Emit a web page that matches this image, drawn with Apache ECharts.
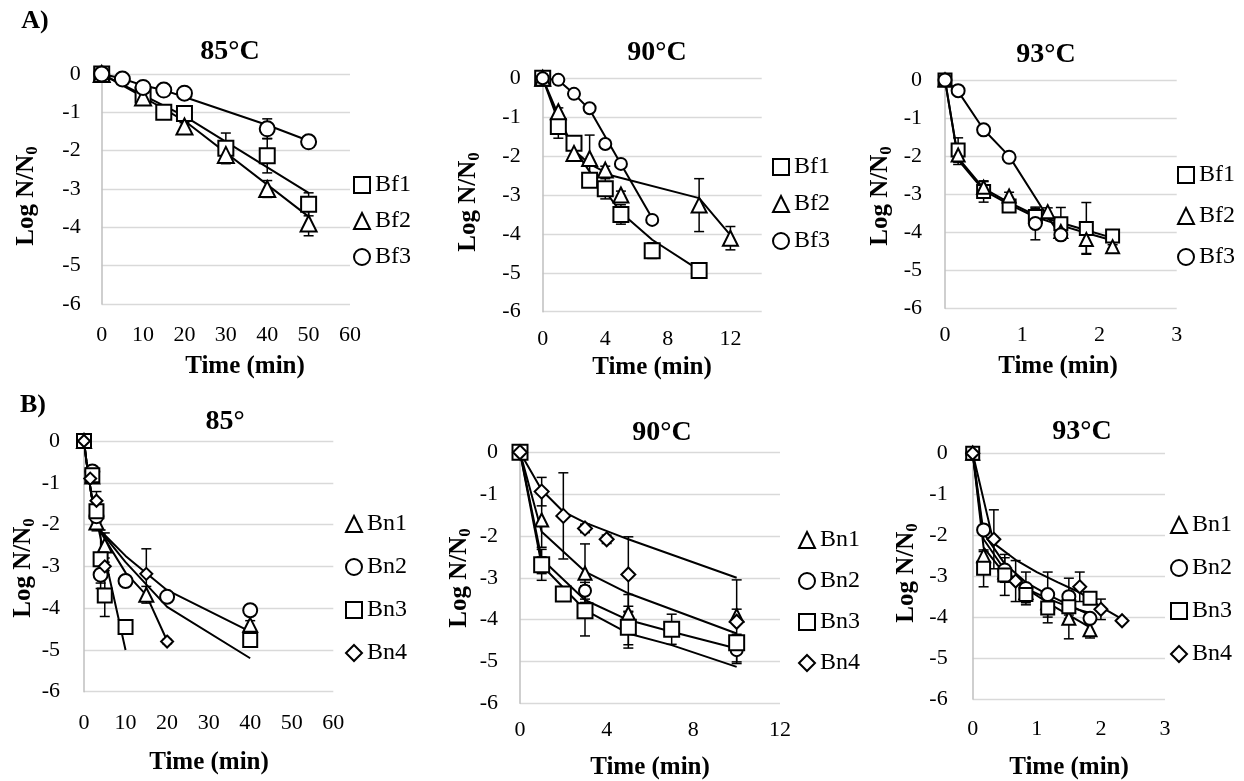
<!DOCTYPE html>
<html><head><meta charset="utf-8">
<script src="https://cdn.jsdelivr.net/npm/echarts@6/dist/echarts.min.js"></script>
<style>html,body{margin:0;padding:0;background:#fff}#c{width:1244px;height:781px}</style>
</head><body><div id="c"></div>
<script>
// ===== DATA: each point is [time (min), log N/N0, error] ; fits are [time, log N/N0] =====
// A) 85°C
const A85_Bf1 = [[0,0,0],[10,-0.55,0.1],[15,-1.0,0.05],[20,-1.03,0.15],[30,-1.94,0.4],[40,-2.13,0.45],[50,-3.4,0.3]];
const A85_Bf2 = [[0,0,0],[10,-0.61,0.1],[20,-1.37,0.1],[30,-2.11,0.1],[40,-3.0,0.22],[50,-3.9,0.32]];
const A85_Bf3 = [[0,0,0],[5,-0.13,0.05],[10,-0.35,0.15],[15,-0.42,0.05],[20,-0.5,0.1],[40,-1.43,0.26],[50,-1.77,0.05]];
const A85_Bf1_fit = [[0,0],[10,-0.55],[20,-1.1],[50,-3.1]];
const A85_Bf2_fit = [[0,0],[10,-0.6],[20,-1.22],[50,-3.72]];
const A85_Bf3_fit = [[0,0],[5,-0.12],[10,-0.3],[15,-0.42],[20,-0.6],[40,-1.33],[50,-1.74]];
// A) 90°C
const A90_Bf1 = [[0,0,0],[1,-1.24,0.3],[2,-1.67,0.15],[3,-2.62,0.15],[4,-2.84,0.26],[5,-3.5,0.25],[7,-4.43,0.2],[10,-4.94,0.05]];
const A90_Bf2 = [[0,0,0],[1,-0.86,0.1],[2,-1.93,0.1],[3,-2.06,0.6],[4,-2.36,0.1],[5,-3.0,0.1],[10,-3.26,0.68],[12,-4.11,0.3]];
const A90_Bf3 = [[0,0,0],[1,-0.04,0],[2,-0.4,0],[3,-0.77,0],[4,-1.69,0],[5,-2.2,0],[7,-3.64,0]];
const A90_Bf1_fit = [[0,0],[1,-1.1],[2,-1.8],[3,-2.4],[4,-2.9],[5,-3.45],[7,-4.15],[10,-4.93]];
const A90_Bf2_fit = [[0,0],[1,-0.95],[2,-1.85],[3,-2.2],[4.4,-2.5],[10,-3.08],[12,-4.03]];
const A90_Bf3_fit = [[0,0],[1,-0.05],[2,-0.4],[3,-0.8],[5,-2.2],[7,-3.6]];
// A) 93°C
const A93_Bf1 = [[0,0,0],[0.17,-1.84,0.32],[0.5,-2.93,0.28],[0.83,-3.31,0.1],[1.17,-3.59,0.22],[1.5,-3.78,0.43],[1.83,-3.9,0.68],[2.17,-4.1,0.1]];
const A93_Bf2 = [[0,0,0],[0.17,-1.97,0.25],[0.5,-2.82,0.15],[0.83,-3.05,0.1],[1.33,-3.46,0.1],[1.5,-3.98,0.1],[1.83,-4.19,0.37],[2.17,-4.38,0.05]];
const A93_Bf3 = [[0,0,0],[0.17,-0.28,0],[0.5,-1.31,0],[0.83,-2.03,0],[1.17,-3.77,0.43],[1.5,-4.07,0.1]];
const A93_Bf1_fit = [[0,0],[0.17,-2.05],[0.5,-2.85],[0.83,-3.22],[1.17,-3.55],[1.5,-3.75],[1.83,-3.95],[2.17,-4.15]];
const A93_Bf2_fit = [[0,0],[0.17,-2.1],[0.5,-2.9],[0.83,-3.27],[1.17,-3.6],[1.5,-3.82],[1.83,-4.02],[2.17,-4.22]];
const A93_Bf3_fit = [[0,0],[0.17,-0.3],[0.5,-1.3],[0.83,-2.0],[1.33,-3.6],[1.5,-4.1]];
// B) 85°
const B85_Bn1 = [[0,0,0],[2,-0.85,0.1],[3,-1.95,0.2],[5,-2.5,0.3],[15,-3.68,0.2],[40,-4.4,0.1]];
const B85_Bn2 = [[0,0,0],[2,-0.73,0.1],[3,-1.8,0.15],[4,-3.2,0.2],[10,-3.35,0.1],[20,-3.73,0.1],[40,-4.05,0.1]];
const B85_Bn3 = [[0,0,0],[2,-0.82,0.1],[3,-1.68,0.25],[4,-2.83,0.7],[5,-3.7,0.5],[10,-4.45,0.1],[40,-4.76,0.1]];
const B85_Bn4 = [[0,0,0],[1.5,-0.9,0.1],[3,-1.43,0.22],[5,-3.0,0.1],[15,-3.18,0.6],[20,-4.8,0.05]];
const B85_Bn1_fit = [[0,0],[0.6,-0.5],[1.8,-1.3],[3.5,-2.1],[10,-2.9],[20,-3.97],[40,-5.2]];
const B85_Bn2_fit = [[0,0],[0.6,-0.5],[1.8,-1.3],[3.5,-2.1],[10,-2.75],[20,-3.57],[40,-4.56]];
const B85_Bn3_fit = [[0,0],[0.6,-0.5],[1.8,-1.3],[3.5,-2.1],[10,-5.0]];
const B85_Bn4_fit = [[0,0],[0.6,-0.5],[1.8,-1.3],[3.5,-2.1],[10,-3.15],[15,-3.69],[20,-4.78]];
// B) 90°C
const B90_Bn1 = [[0,0,0],[1,-1.62,0.65],[3,-2.89,0.7],[5,-3.85,0.45],[10,-3.9,0.15]];
const B90_Bn2 = [[0,0,0],[1,-2.7,0.2],[3,-3.31,0.2],[5,-4.2,0.4],[10,-4.73,0.28]];
const B90_Bn3 = [[0,0,0],[1,-2.69,0.37],[2,-3.39,0.1],[3,-3.79,0.6],[5,-4.18,0.5],[7,-4.23,0.36],[10,-4.55,0.2]];
const B90_Bn4 = [[0,0,0],[1,-0.94,0.34],[2,-1.52,1.03],[3,-1.82,0.1],[4,-2.08,0.1],[5,-2.92,0.9],[10,-4.05,1.0]];
const B90_Bn1_fit = [[0,0],[1,-1.9],[3,-2.85],[5,-3.37],[10,-4.33]];
const B90_Bn2_fit = [[0,0],[1,-2.55],[3,-3.53],[5,-4.01],[7,-4.29],[10,-4.69]];
const B90_Bn3_fit = [[0,0],[1,-2.7],[3,-3.77],[5,-4.33],[7,-4.61],[10,-5.13]];
const B90_Bn4_fit = [[0,0],[1,-0.9],[2,-1.42],[3,-1.68],[5,-2.08],[10,-3.0]];
// B) 93°C
const B93_Bn1 = [[0,0,0],[0.17,-2.5,0.1],[0.5,-2.9,0.1],[0.83,-3.4,0.1],[1.17,-3.65,0.1],[1.5,-4.03,0.5],[1.83,-4.31,0.2]];
const B93_Bn2 = [[0,0,0],[0.17,-1.87,0.1],[0.5,-2.85,0.3],[0.83,-3.3,0.4],[1.17,-3.45,0.55],[1.5,-3.5,0.45],[1.83,-4.03,0.1]];
const B93_Bn3 = [[0,0,0],[0.17,-2.81,0.45],[0.5,-2.97,0.5],[0.83,-3.45,0.2],[1.17,-3.78,0.36],[1.5,-3.75,0.3],[1.83,-3.54,0.1]];
const B93_Bn4 = [[0,0,0],[0.33,-2.1,0.72],[0.67,-3.12,0.5],[1.67,-3.26,0.36],[2.0,-3.81,0.25],[2.33,-4.09,0.05]];
const B93_Bn1_fit = [[0,0],[0.17,-2.1],[0.5,-2.85],[0.83,-3.3],[1.17,-3.65],[1.5,-3.95],[1.83,-4.25]];
const B93_Bn2_fit = [[0,0],[0.17,-1.95],[0.5,-2.7],[0.83,-3.15],[1.17,-3.45],[1.5,-3.7],[1.83,-3.95]];
const B93_Bn3_fit = [[0,0],[0.17,-2.3],[0.5,-2.95],[0.83,-3.3],[1.17,-3.55],[1.5,-3.75],[1.83,-3.9]];
const B93_Bn4_fit = [[0,0],[0.33,-2.2],[0.67,-2.6],[1.0,-2.9],[1.33,-3.15],[1.67,-3.4],[2.0,-3.75],[2.33,-4.05]];

const yTicks = {min: -6, max: 0, interval: 1};
const panelTitles = ['85°C', '90°C', '93°C', '85°', '90°C', '93°C'];
const xAxisTitle = 'Time (min)';
const yAxisTitle = 'Log N/N{sub|0}';
const groupLabels = ['A)', 'B)'];

// ===== LAYOUT / STYLE =====
const FONT = '"Liberation Serif", "Times New Roman", serif';
const panels = [
  {grid:{left:101.7, top:74, width:248.3, height:230}, xMax:60, xInt:10, xm:20, ym:21,
   title:[230,52], xName:[245,367], yName:[27,196], legend:{left:353, top:173, gap:12},
   series:[['Bf1',A85_Bf1,A85_Bf1_fit,'rect',15],['Bf2',A85_Bf2,A85_Bf2_fit,'triangle',16],['Bf3',A85_Bf3,A85_Bf3_fit,'circle',15]]},
  {grid:{left:542.7, top:78.3, width:219, height:233.4}, xMax:14, xInt:4, xm:17, ym:22,
   title:[657,53], xName:[652,368], yName:[469,202], legend:{left:772, top:155, gap:13},
   series:[['Bf1',A90_Bf1,A90_Bf1_fit,'rect',15],['Bf2',A90_Bf2,A90_Bf2_fit,'triangle',15],['Bf3',A90_Bf3,A90_Bf3_fit,'circle',12]]},
  {grid:{left:945, top:80, width:231.7, height:228.3}, xMax:3, xInt:1, xm:16, ym:23,
   title:[1046,55], xName:[1058,367], yName:[881,196], legend:{left:1177, top:163, gap:17},
   series:[['Bf1',A93_Bf1,A93_Bf1_fit,'rect',13],['Bf2',A93_Bf2,A93_Bf2_fit,'triangle',13],['Bf3',A93_Bf3,A93_Bf3_fit,'circle',13]]},
  {grid:{left:84, top:441, width:249.3, height:250.7}, xMax:60, xInt:10, xm:21, ym:24,
   title:[225,422], xName:[209,763], yName:[24,568], legend:{left:345, top:512, gap:19},
   series:[['Bn1',B85_Bn1,B85_Bn1_fit,'triangle',14],['Bn2',B85_Bn2,B85_Bn2_fit,'circle',14],['Bn3',B85_Bn3,B85_Bn3_fit,'rect',14],['Bn4',B85_Bn4,B85_Bn4_fit,'diamond',12]]},
  {grid:{left:520, top:452.3, width:260, height:251}, xMax:12, xInt:4, xm:16, ym:22,
   title:[662,433], xName:[650,768], yName:[460,578], legend:{left:798, top:528, gap:17},
   series:[['Bn1',B90_Bn1,B90_Bn1_fit,'triangle',13],['Bn2',B90_Bn2,B90_Bn2_fit,'circle',12],['Bn3',B90_Bn3,B90_Bn3_fit,'rect',15],['Bn4',B90_Bn4,B90_Bn4_fit,'diamond',14]]},
  {grid:{left:972.7, top:453.3, width:192.3, height:245.7}, xMax:3, xInt:1, xm:19, ym:25,
   title:[1082,432], xName:[1069,768], yName:[907,573], legend:{left:1170, top:513, gap:19},
   series:[['Bn1',B93_Bn1,B93_Bn1_fit,'triangle',13],['Bn2',B93_Bn2,B93_Bn2_fit,'circle',13],['Bn3',B93_Bn3,B93_Bn3_fit,'rect',13],['Bn4',B93_Bn4,B93_Bn4_fit,'diamond',13]]}
];

function errBar(params, api) {
  const x = api.value(0), lo = api.value(1), hi = api.value(2);
  const a = api.coord([x, hi]), b = api.coord([x, lo]);
  const w = 5, st = {stroke:'#000', lineWidth:1.5};
  return {type:'group', children:[
    {type:'line', shape:{x1:a[0], y1:a[1], x2:b[0], y2:b[1]}, style:st},
    {type:'line', shape:{x1:a[0]-w, y1:a[1], x2:a[0]+w, y2:a[1]}, style:st},
    {type:'line', shape:{x1:b[0]-w, y1:b[1], x2:b[0]+w, y2:b[1]}, style:st}
  ]};
}

const grids = [], xAxes = [], yAxes = [], series = [], legends = [], graphics = [];
function txt(pos, text, size, bold, rot) {
  return {type:'text', x:pos[0], y:pos[1], rotation: rot || 0, silent:true,
    style:{text, fill:'#000', fontSize:size, fontWeight: bold ? 'bold' : 'normal', fontFamily:FONT,
      align:'center', verticalAlign:'middle',
      rich:{sub:{fontSize:17, fontWeight:'bold', fontFamily:FONT, fill:'#000', padding:[12,0,0,0]}}}};
}
panels.forEach((p, i) => {
  grids.push(p.grid);
  xAxes.push({type:'value', gridIndex:i, min:0, max:p.xMax, interval:p.xInt,
    axisLine:{show:false, onZero:false}, axisTick:{show:false}, splitLine:{show:false},
    axisLabel:{margin:p.xm, fontSize:22, fontFamily:FONT, color:'#000',
      formatter: v => Math.abs(v / p.xInt - Math.round(v / p.xInt)) < 1e-6 ? String(v) : ''}});
  yAxes.push({type:'value', gridIndex:i, min:yTicks.min, max:yTicks.max, interval:yTicks.interval,
    axisLine:{show:true, onZero:false, lineStyle:{color:'#bfbfbf', width:1.5}}, axisTick:{show:false},
    splitLine:{show:true, lineStyle:{color:'#d9d9d9', width:1.3}},
    axisLabel:{margin:p.ym, fontSize:22, fontFamily:FONT, color:'#000'}});
  p.series.forEach(([name, pts, fit, sym, size]) => {
    series.push({type:'line', xAxisIndex:i, yAxisIndex:i, data:fit, showSymbol:false, symbol:'none',
      lineStyle:{color:'#000', width:2}, silent:true, clip:false, z:1, name:name + ' fit'});
    series.push({type:'custom', xAxisIndex:i, yAxisIndex:i, renderItem:errBar, silent:true, clip:false, z:2,
      name:name + ' err', encode:{x:0, y:[1,2]},
      data: pts.filter(d => d[2] > 0).map(d => [d[0], d[1] - d[2], d[1] + d[2]])});
  });
  p.series.forEach(([name, pts, fit, sym, size]) => {
    series.push({type:'scatter', name, xAxisIndex:i, yAxisIndex:i, symbol:sym, symbolSize:size, clip:false, z:3,
      itemStyle:{color:'#fff', borderColor:'#000', borderWidth:2, opacity:1},
      data: pts.map(d => [d[0], d[1]])});
  });
  legends.push({orient:'vertical', left:p.legend.left, top:p.legend.top, itemGap:p.legend.gap, padding:0,
    itemWidth:16, itemHeight:16, selectedMode:false,
    data:p.series.map(s => s[0]),
    textStyle:{fontSize:24, fontFamily:FONT, color:'#000'},
    itemStyle:{color:'#fff', borderColor:'#000', borderWidth:2}});
  graphics.push(txt(p.title, panelTitles[i], 28, true));
  graphics.push(txt(p.xName, xAxisTitle, 25, true));
  graphics.push(txt(p.yName, yAxisTitle, 25, true, Math.PI / 2));
});
graphics.push(txt([35,21], groupLabels[0], 26, true));
graphics.push(txt([33,405], groupLabels[1], 26, true));

const chart = echarts.init(document.getElementById('c'), null, {renderer:'canvas'});
chart.setOption({
  animation:false, backgroundColor:'#fff',
  textStyle:{fontFamily:FONT},
  grid:grids, xAxis:xAxes, yAxis:yAxes, legend:legends, series, graphic:graphics
});
</script></body></html>
